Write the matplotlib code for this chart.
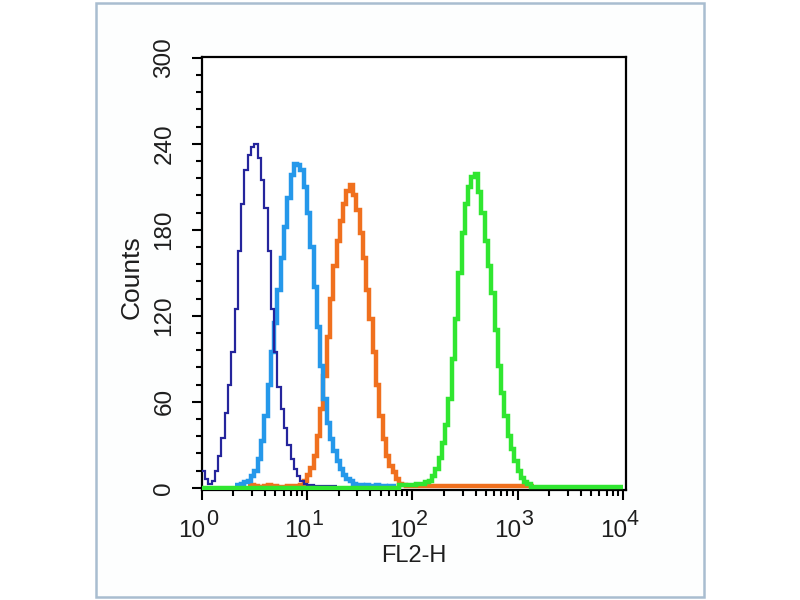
import numpy as np
import matplotlib
matplotlib.use("Agg")
import matplotlib.pyplot as plt
from matplotlib.patches import Rectangle

plt.rcParams['font.family'] = ['Liberation Sans', 'DejaVu Sans']

# ---- data: 128 log channels over 4 decades (32 per decade) ----
n_channels = 128
decades = 4

navy_start = 0
navy_counts = [12, 6, 3, 5, 12, 22, 35, 52, 72, 95, 125, 165, 198, 222, 232, 238,
               240, 230, 215, 195, 165, 125, 95, 70, 55, 42, 30, 20, 13, 8, 5, 3,
               2, 2, 1.5, 1.5, 1.5, 1.5, 1.5, 1.5, 1]

lightblue_start = 10
lightblue_counts = [2, 2, 3, 4, 5, 8, 12, 20, 33, 50, 72, 95, 115, 138, 160, 182,
                    202, 218, 226, 225, 222, 210, 192, 168, 140, 112, 85, 62, 45, 34,
                    26, 19, 13, 9, 6, 5, 3, 2, 2, 1, 2, 1, 1, 2, 1, 1, 0.5, 1.5, 1]

orange_start = 14
orange_counts = [1, 2, 1, 0.5, 0.5, 1, 2, 1, 1, 0.5, 0.5, 0.5, 1, 1, 1, 1,
                 2, 5, 9, 14, 22, 36, 55, 78, 105, 132, 155, 172, 186, 198, 207, 211,
                 204, 194, 178, 160, 138, 118, 95, 72, 50, 34, 22, 15, 11, 6, 3, 2,
                 1.5, 1.5, 1.5, 1.5, 1.5, 1.5, 1.5, 1.5, 1.5, 1.5, 1.5, 1.5, 1.5, 1.5,
                 1.5, 1.5, 1.5, 1.5, 1.5, 1.5, 1.5, 1.5, 1.5, 1.5, 1.5, 1.5, 1.5, 1.5,
                 1.5, 1.5, 1.5, 1.5, 1.5, 1.5, 1.5, 1.5, 1.5, 1.5, 1]

green_start = 0
green_counts = [0] * 60 + [2, 2, 2, 2, 2, 3, 3, 3, 4, 5, 8, 13, 21, 31, 44, 62,
                           90, 118, 150, 178, 198, 210, 217, 219, 206, 192, 172, 155, 136, 110, 85, 66,
                           50, 36, 27, 19, 12, 7, 4, 3] + [0.5] * 28

y_ticks = [0, 60, 120, 180, 240, 300]
x_tick_exponents = ['0', '1', '2', '3', '4']
x_label = 'FL2-H'
y_label = 'Counts'

edges = np.logspace(0, decades, n_channels + 1)

fig = plt.figure(figsize=(8, 6), dpi=100)
fig.patch.set_facecolor('white')
frame = Rectangle((96 / 800, 3 / 600), 608 / 800, 594 / 600,
                  transform=fig.transFigure, facecolor='#fdfefe',
                  edgecolor='#a9bdd0', linewidth=1.8, zorder=-10)
fig.add_artist(frame)

ax = fig.add_axes([201.7 / 800, 1 - 490 / 600, (626 - 201.7) / 800, (490 - 57) / 600])
ax.set_zorder(1)
ax.set_facecolor('white')

def draw(start, counts, color, lw, z):
    counts = np.asarray(counts, dtype=float)
    e = edges[start:start + len(counts) + 1]
    ax.stairs(counts, e, baseline=None, color=color, linewidth=lw, zorder=z)

draw(orange_start, orange_counts, '#f0701e', 3.2, 2)
draw(lightblue_start, lightblue_counts, '#2598ea', 3.2, 3)
draw(navy_start, navy_counts, '#25259c', 1.6, 4)
draw(green_start, green_counts, '#30e630', 3.2, 5)

ax.set_xscale('log')
ax.set_xlim(1, 10 ** 4.03)
ax.set_ylim(-1.5, 300.5)

ax.set_yticks(y_ticks)
ax.set_yticklabels([str(v) for v in y_ticks], rotation=90, va='center')
ax.set_yticks(np.arange(0, 301, 12), minor=True)
ax.set_xticks([10 ** k for k in range(len(x_tick_exponents))])
ax.set_xticklabels([''] * len(x_tick_exponents))
ax.xaxis.set_minor_locator(matplotlib.ticker.LogLocator(base=10, subs=np.arange(2, 10)))
ax.xaxis.set_minor_formatter(matplotlib.ticker.NullFormatter())

ax.tick_params(axis='both', which='major', direction='out', length=7, width=1.5,
               labelsize=17.5, color='black', labelcolor='#1e1e1e')
ax.tick_params(axis='both', which='minor', direction='out', length=4.5, width=1.5, color='black')
ax.tick_params(axis='y', which='major', pad=12)

# x tick labels: "10" with a large superscript exponent
for k, ex in enumerate(x_tick_exponents):
    xv = 10 ** k
    ax.annotate('10', xy=(xv, 0), xycoords=('data', 'axes fraction'),
                xytext=(4, -47), textcoords='offset pixels',
                ha='right', va='baseline', fontsize=17.5, color='#1e1e1e',
                annotation_clip=False)
    ax.annotate(ex, xy=(xv, 0), xycoords=('data', 'axes fraction'),
                xytext=(4, -35), textcoords='offset pixels',
                ha='left', va='baseline', fontsize=15.5, color='#1e1e1e',
                annotation_clip=False)

for s in ax.spines.values():
    s.set_linewidth(1.6)
    s.set_color('black')

ax.set_xlabel(x_label, fontsize=17, color='#1e1e1e')
ax.xaxis.set_label_coords(0.5, -66 / 433)
ax.xaxis.label.set_va('center')
ax.set_ylabel(y_label, fontsize=19, color='#1e1e1e')
ax.yaxis.set_label_coords(-70 / 424.3, 0.492)
ax.yaxis.label.set_va('center')

fig.savefig('out.png', dpi=100, facecolor='white')
